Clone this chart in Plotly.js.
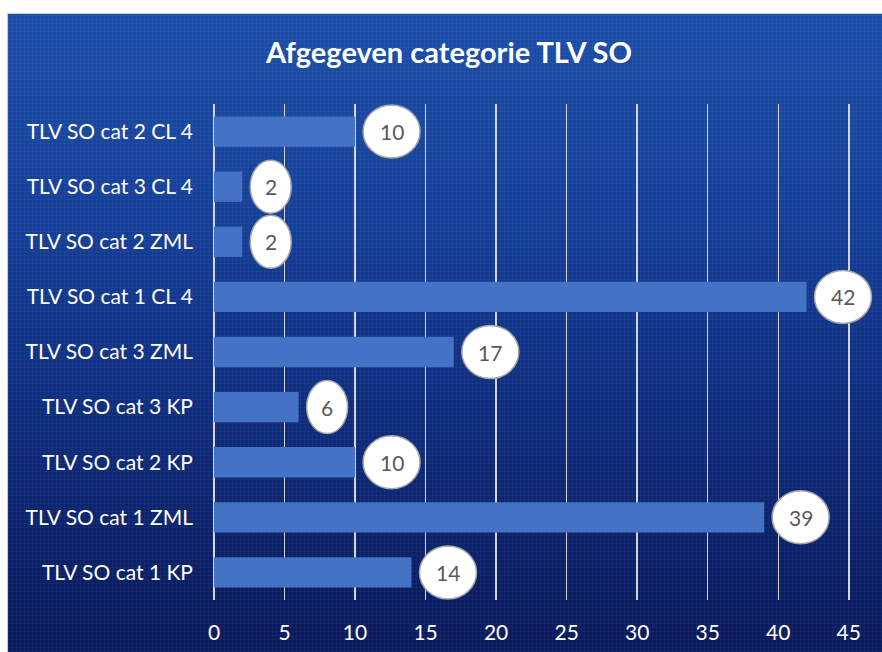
<!DOCTYPE html>
<html>
<head>
<meta charset="utf-8">
<script src="https://cdn.plot.ly/plotly-3.0.1.min.js"></script>
<style>
  html, body { margin: 0; padding: 0; background: #ffffff; width: 882px; height: 652px; overflow: hidden; }
  #bg {
    position: absolute; left: 7px; top: 13px; width: 875px; height: 639px;
    border-top: 1px solid #c8c8c8; border-left: 1px solid #c8c8c8; box-sizing: border-box;
    background:
      repeating-linear-gradient(90deg, rgba(255,255,255,0.03) 0px, rgba(255,255,255,0.03) 1px, rgba(0,0,0,0) 1px, rgba(0,0,0,0) 4px),
      repeating-linear-gradient(0deg, rgba(255,255,255,0.03) 0px, rgba(255,255,255,0.03) 1px, rgba(0,0,0,0) 1px, rgba(0,0,0,0) 4px),
      linear-gradient(to bottom, #1c4ea8 0%, #15409a 30%, #0f2e80 60%, #0b2068 85%, #0a1a5c 100%);
  }
  #chart { position: absolute; left: 0; top: 0; width: 882px; height: 652px; }
</style>
</head>
<body>
<div id="bg"></div>
<div id="chart"></div>
<script>
// Data (listed top to bottom as shown)
const categories = [
  "TLV SO cat 2 CL 4",
  "TLV SO cat 3 CL 4",
  "TLV SO cat 2 ZML",
  "TLV SO cat 1 CL 4",
  "TLV SO cat 3 ZML",
  "TLV SO cat 3 KP",
  "TLV SO cat 2 KP",
  "TLV SO cat 1 ZML",
  "TLV SO cat 1 KP"
];
const values = [10, 2, 2, 42, 17, 6, 10, 39, 14];
const xTicks = [0, 5, 10, 15, 20, 25, 30, 35, 40, 45];
const chartTitle = "Afgegeven categorie TLV SO";

const FONT = "Lato, 'Open Sans', sans-serif";

const bar = {
  type: "bar",
  orientation: "h",
  x: values,
  y: categories,
  width: 0.55,
  marker: { color: "#4472C4" },
  hoverinfo: "x+y"
};

const shapes = [];
const annotations = [];
values.forEach((v, i) => {
  const w = String(v).length > 1 ? 57 : 41;
  shapes.push({
    type: "circle",
    xref: "x", yref: "y",
    xsizemode: "pixel", ysizemode: "pixel",
    xanchor: v, yanchor: categories[i],
    x0: 8, x1: 8 + w, y0: -26.5, y1: 26.5,
    fillcolor: "#ffffff",
    line: { color: "#a6a6a6", width: 1.5 },
    layer: "above"
  });
  annotations.push({
    xref: "x", yref: "y",
    x: v, y: categories[i],
    xshift: 8 + w / 2,
    text: String(v),
    showarrow: false,
    font: { family: FONT, size: 21, color: "#595959" },
    xanchor: "center", yanchor: "middle"
  });
});

const layout = {
  width: 882, height: 652,
  paper_bgcolor: "rgba(0,0,0,0)",
  plot_bgcolor: "rgba(0,0,0,0)",
  margin: { l: 214, r: 5, t: 104, b: 52 },
  showlegend: false,
  title: {
    text: "<b>" + chartTitle + "</b>",
    font: { family: FONT, size: 29, color: "#ffffff" },
    xref: "container", yref: "container",
    x: 0.509, y: 0.919, xanchor: "center", yanchor: "middle"
  },
  xaxis: {
    range: [0, 47],
    tickvals: xTicks,
    ticktext: xTicks.map(String),
    showgrid: true,
    gridcolor: "#d4d4d4",
    gridwidth: 1.5,
    zeroline: true,
    zerolinecolor: "#d4d4d4",
    zerolinewidth: 1.5,
    showline: false,
    ticks: "",
    ticklabelstandoff: 18,
    tickfont: { family: FONT, size: 21, color: "#ffffff" },
    fixedrange: true
  },
  yaxis: {
    type: "category",
    categoryorder: "array",
    categoryarray: categories,
    autorange: "reversed",
    showgrid: false,
    zeroline: false,
    showline: false,
    ticks: "",
    ticklabelstandoff: 20,
    tickfont: { family: FONT, size: 21, color: "#ffffff" },
    fixedrange: true
  },
  shapes: shapes,
  annotations: annotations
};

Plotly.newPlot("chart", [bar], layout, { displayModeBar: false, staticPlot: true });
</script>
</body>
</html>
